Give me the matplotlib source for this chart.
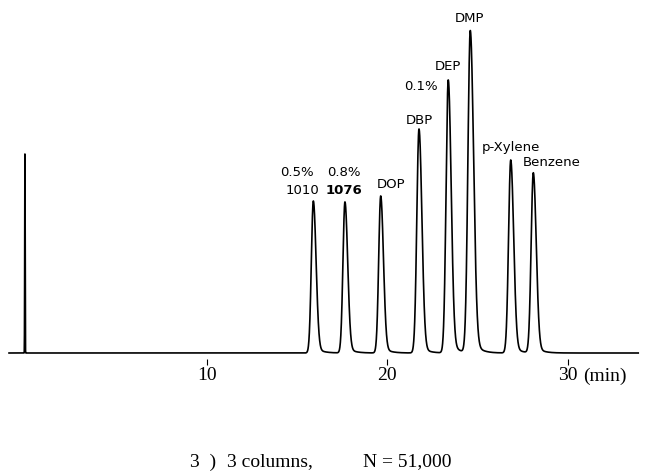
import numpy as np
import matplotlib
matplotlib.use("Agg")
import matplotlib.pyplot as plt

# ── chromatogram data (time in min, height in arbitrary units) ──
peak_names = ["1010", "1076", "DOP", "DBP", "DEP", "DMP", "p-Xylene", "Benzene"]
peak_times = [15.91, 17.66, 19.64, 21.76, 23.38, 24.60, 26.84, 28.09]
peak_heights = [152, 151, 157, 224, 273, 322, 193, 180]
sigma_left = [0.11, 0.11, 0.11, 0.12, 0.12, 0.13, 0.12, 0.12]
sigma_right = [0.15, 0.15, 0.15, 0.16, 0.16, 0.18, 0.16, 0.16]
tail_frac = [0.05, 0.05, 0.05, 0.04, 0.06, 0.06, 0.05, 0.05]

inj_time = -0.06
inj_height = 199

x_ticks = [10, 20, 30]

# ── build trace ──
t = np.linspace(-0.94, 33.9, 8000)
y = np.zeros_like(t)
for t0, h, sl, sr, tf in zip(peak_times, peak_heights, sigma_left, sigma_right, tail_frac):
    s = np.where(t < t0, sl, sr)
    y += h * np.exp(-0.5 * ((t - t0) / s) ** 2)
    # small tailing on the right side
    tail = np.where(t >= t0, np.exp(-(t - t0) / 0.35), 0.0)
    y += h * tf * tail * (1 - np.exp(-0.5 * ((t - t0) / sr) ** 2))
y += inj_height * np.exp(-0.5 * ((t - inj_time) / 0.012) ** 2)

# ── figure: 1 px == 1 unit vertically, 18.06 px per minute ──
W, H = 648, 477
x0_px, px_per_min, base_px = 26.0, 18.06, 354.0

fig = plt.figure(figsize=(W / 100, H / 100), dpi=100)
ax = fig.add_axes([0, 0, 1, 1])
ax.set_xlim(-x0_px / px_per_min, (W - x0_px) / px_per_min)
ax.set_ylim(base_px - H, base_px)

ax.plot(t, y, color="black", lw=1.2, solid_joinstyle="round")

for s in ax.spines.values():
    s.set_visible(False)
ax.spines["bottom"].set_position(("data", -6))
ax.set_yticks([])
ax.set_xticks(x_ticks)
ax.set_xticklabels([str(v) for v in x_ticks], family="Liberation Serif", fontsize=14)
ax.tick_params(axis="x", direction="out", length=4.3, width=0.8, pad=1)


def px(xp, yp):
    return (xp - x0_px) / px_per_min, base_px - yp


serif_kw = dict(family="Liberation Serif", fontsize=14, ha="left", va="center")
ax.text(*px(583, 376), "(min)", **serif_kw)

label_kw = dict(family="DejaVu Sans", fontsize=9.5, ha="center", va="center")
ax.text(*px(297, 172), "0.5%", **label_kw)
ax.text(*px(302, 190), "1010", **label_kw)
ax.text(*px(344, 172), "0.8%", **label_kw)
ax.text(*px(344, 190), "1076", fontweight="bold", **label_kw)
ax.text(*px(391, 185), "DOP", **label_kw)
ax.text(*px(419, 120), "DBP", **label_kw)
ax.text(*px(421, 87), "0.1%", **label_kw)
ax.text(*px(448, 67), "DEP", **label_kw)
ax.text(*px(469, 19), "DMP", **label_kw)
ax.text(*px(511, 147), "p-Xylene", **label_kw)
ax.text(*px(552, 162), "Benzene", **label_kw)

ax.text(*px(190, 462), "3  )", **serif_kw)
ax.text(*px(227, 462), "3 columns,", **serif_kw)
ax.text(*px(363, 462), "N = 51,000", **serif_kw)

fig.savefig("out.png", dpi=100, facecolor="white")
